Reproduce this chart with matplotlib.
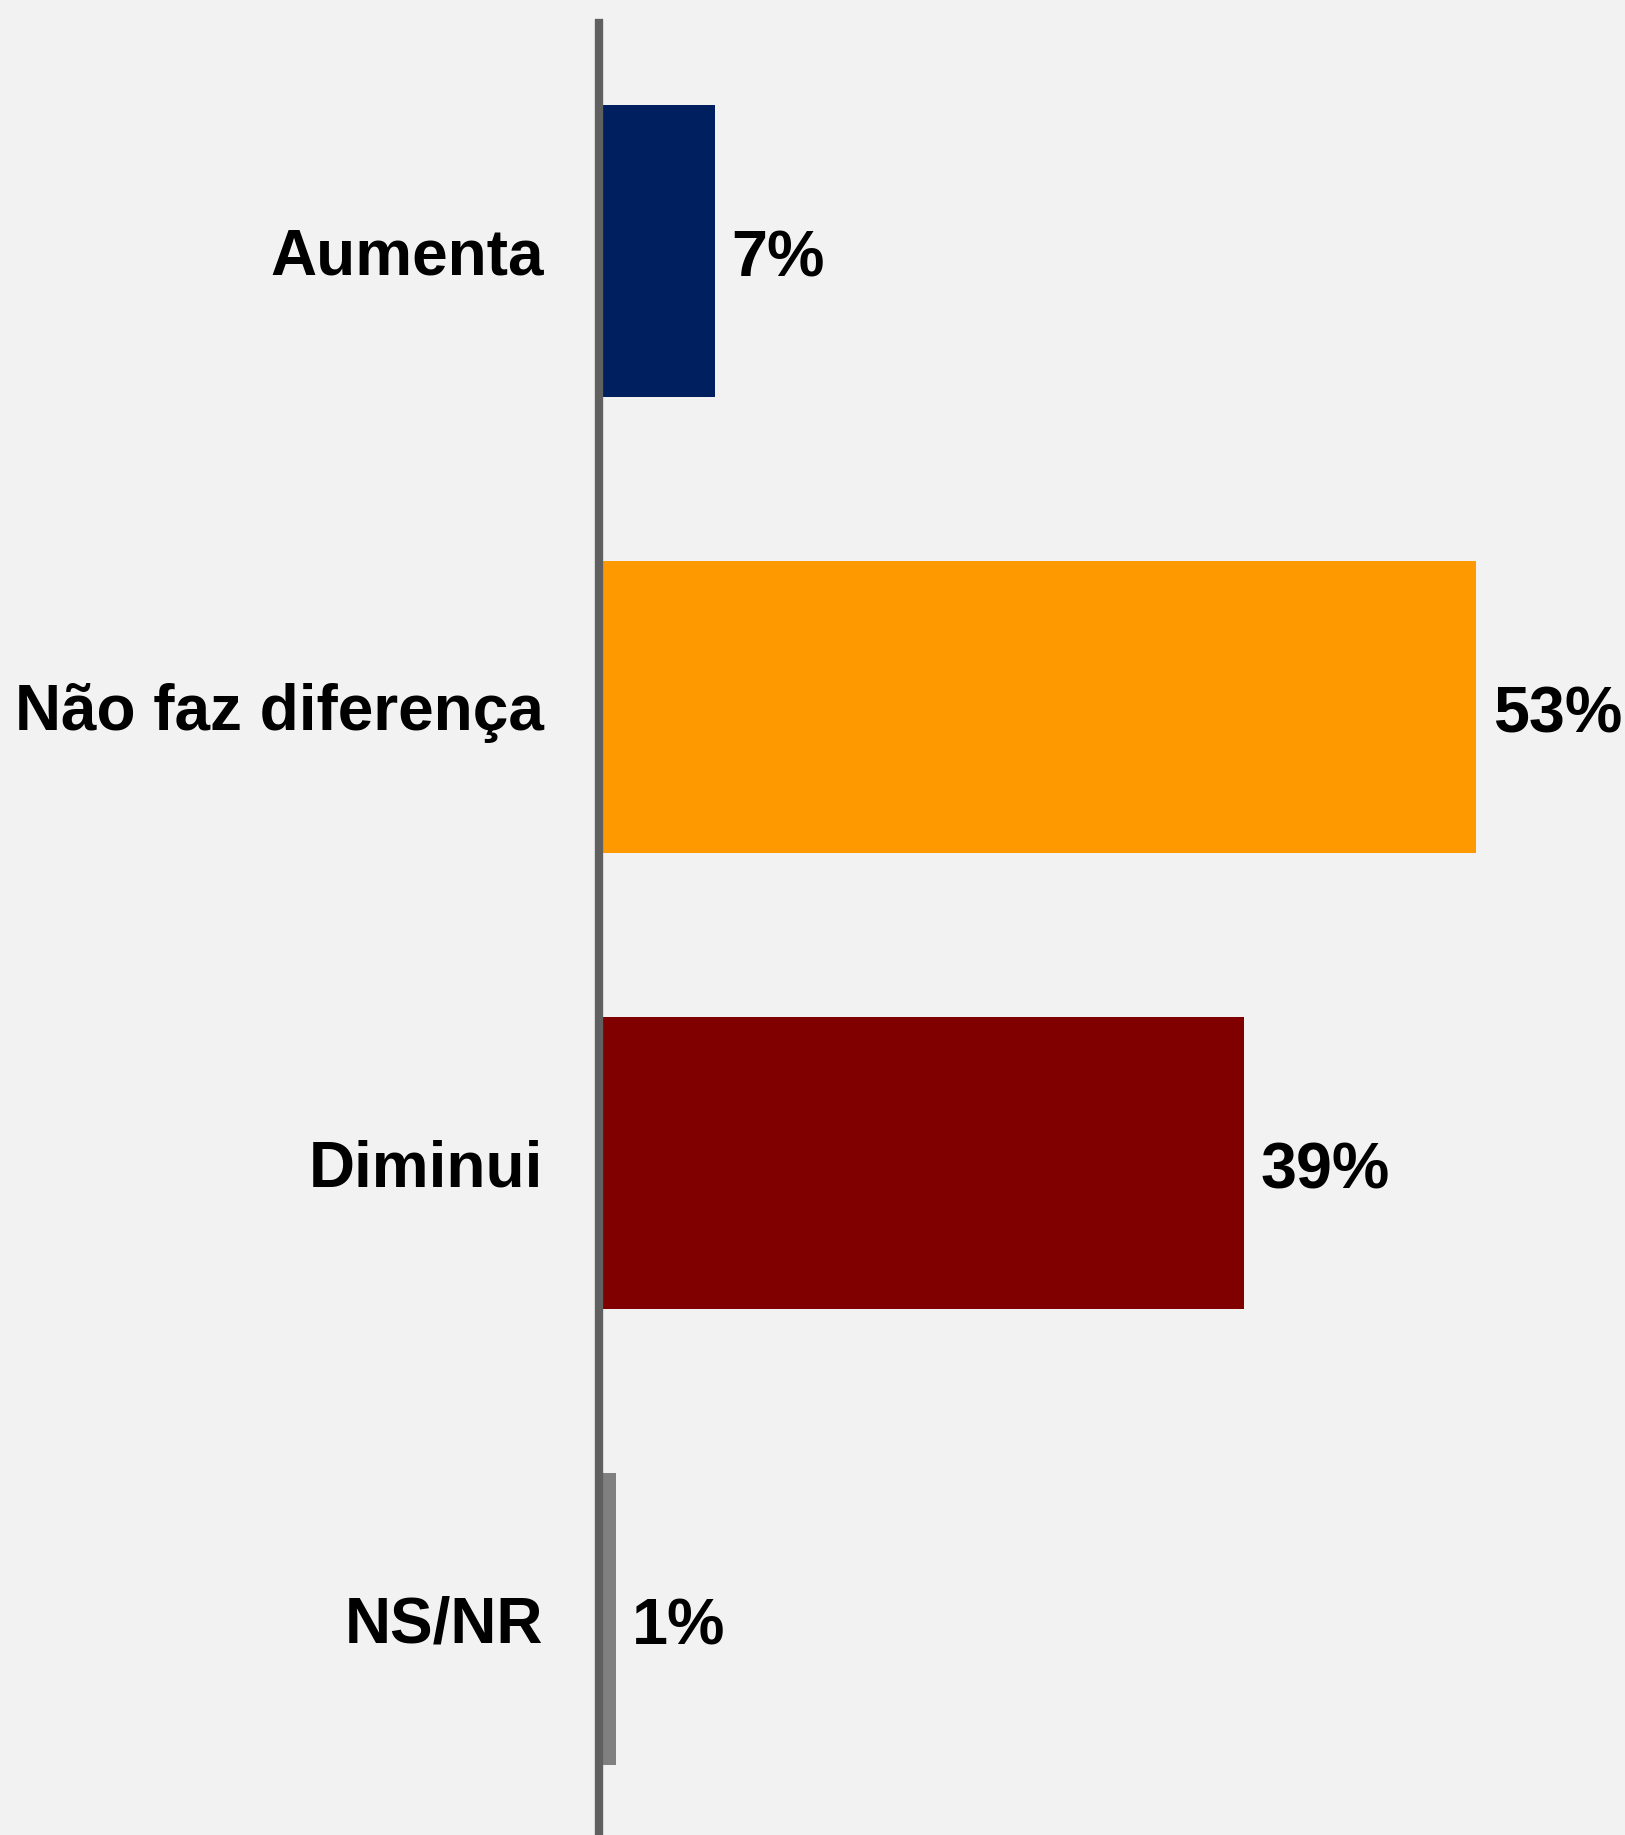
import matplotlib
matplotlib.use("Agg")
import matplotlib.pyplot as plt
import numpy as np

plt.rcParams["font.family"] = ["Liberation Sans", "DejaVu Sans"]

# Survey answers and shares (%)
categories = ["Aumenta", "Não faz diferença", "Diminui", "NS/NR"]
values = [7, 53, 39, 1]
colors = ["#001F5F", "#FF9900", "#800000", "#808080"]

BG = "#F2F2F2"

fig = plt.figure(figsize=(16.25, 18.35), dpi=100, facecolor=BG)
ax = fig.add_axes([599 / 1625, 0.0, 1 - 599 / 1625, 1 - 23 / 1835])
ax.set_facecolor(BG)

for side in ["top", "right", "bottom"]:
    ax.spines[side].set_visible(False)
ax.spines["left"].set_color("#606060")
ax.spines["left"].set_linewidth(6)

y = np.arange(len(categories))
bars = ax.barh(y, values, height=0.642, color=colors)

ax.set_xlim(0, 62)
ax.set_ylim(3.474, -0.5)

# value labels next to each bar, baseline a bit below bar centre
for bar, v in zip(bars, values):
    ax.text(bar.get_width() + 1.0, bar.get_y() + bar.get_height() / 2 + 0.056,
            f"{v}%", ha="left", va="baseline", fontsize=46.5, fontweight="bold",
            color="black")

ax.set_xticks([])
ax.set_yticks(y)
ax.set_yticklabels(categories, fontsize=46, fontweight="bold")
ax.tick_params(axis="y", length=0, pad=40)

fig.savefig("out.png", dpi=100, facecolor=BG)
